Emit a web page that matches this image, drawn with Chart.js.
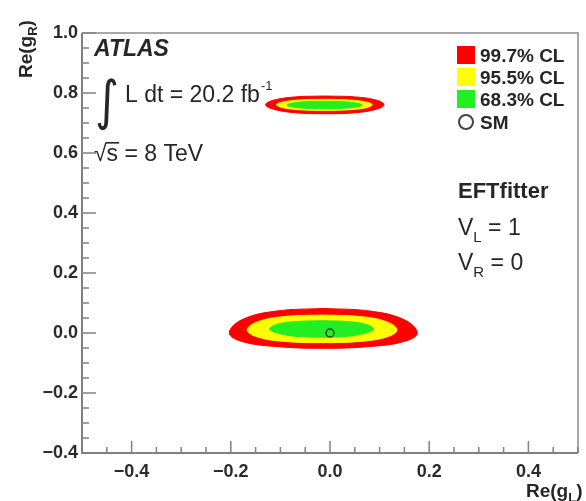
<!DOCTYPE html>
<html>
<head>
<meta charset="utf-8">
<script src="https://cdn.jsdelivr.net/npm/chart.js@4.4.0/dist/chart.umd.min.js"></script>
<style>
  html, body { margin: 0; padding: 0; background: #fff; }
  #wrap { width: 586px; height: 501px; position: relative; }
</style>
</head>
<body>
<div id="wrap"><canvas id="c"></canvas></div>
<script>
// --- contour points (top centre, then clockwise) ---
const lowRedX = [-0.014, 0.081, 0.150, 0.176, 0.150, 0.081, -0.014, -0.109, -0.178, -0.203, -0.178, -0.109];
const lowRedY = [0.082, 0.073, 0.044, 0.000, -0.028, -0.045, -0.051, -0.045, -0.028, 0.000, 0.044, 0.073];
const lowYelX = [-0.016, 0.060, 0.115, 0.135, 0.115, 0.060, -0.016, -0.092, -0.147, -0.167, -0.147, -0.092];
const lowYelY = [0.060, 0.055, 0.037, 0.010, -0.013, -0.028, -0.032, -0.028, -0.013, 0.010, 0.037, 0.055];
const lowGrnX = [-0.017, 0.036, 0.074, 0.088, 0.074, 0.036, -0.017, -0.070, -0.108, -0.122, -0.108, -0.070];
const lowGrnY = [0.041, 0.038, 0.028, 0.013, 0.001, -0.011, -0.014, -0.011, 0.001, 0.013, 0.028, 0.038];

const upRedX = [-0.010, 0.050, 0.094, 0.109, 0.094, 0.050, -0.010, -0.070, -0.114, -0.130, -0.114, -0.070];
const upRedY = [0.790, 0.787, 0.776, 0.761, 0.746, 0.734, 0.731, 0.734, 0.746, 0.761, 0.776, 0.787];
const upYelX = [-0.011, 0.037, 0.073, 0.085, 0.073, 0.037, -0.011, -0.060, -0.095, -0.108, -0.095, -0.060];
const upYelY = [0.779, 0.777, 0.770, 0.761, 0.751, 0.744, 0.742, 0.744, 0.751, 0.761, 0.770, 0.777];
const upGrnX = [-0.011, 0.027, 0.055, 0.065, 0.055, 0.027, -0.011, -0.049, -0.077, -0.087, -0.077, -0.049];
const upGrnY = [0.772, 0.771, 0.766, 0.760, 0.754, 0.749, 0.748, 0.749, 0.754, 0.760, 0.766, 0.771];

// standard model point
const smX = [0.0];
const smY = [0.0];

const legendLabels = ['99.7% CL', '95.5% CL', '68.3% CL', 'SM'];
const xMajor = [-0.4, -0.2, 0.0, 0.2, 0.4];
const yMajor = [-0.4, -0.2, 0.0, 0.2, 0.4, 0.6, 0.8, 1.0];

const RED = '#ff0000', YEL = '#ffff00', GRN = '#22ee22';
const FONT = '"Liberation Sans", Arial, sans-serif';

function isMajor(v, list) {
  return list.some(m => Math.abs(m - v) < 1e-6);
}
function fmt(v) {
  if (Math.abs(v) < 1e-6) return '0.0';
  return v < 0 ? '\u2212' + (-v).toFixed(1) : v.toFixed(1);
}
// minor tick positions every 0.05
function minorTicks(min, max) {
  const out = [];
  for (let i = Math.round(min * 20); i <= Math.round(max * 20); i++) out.push({ value: i / 20 });
  return out;
}

function contour(label, xs, ys, color, order) {
  const pts = xs.map((x, i) => ({ x: x, y: ys[i] }));
  pts.push(pts[0]);
  return {
    label: label, data: pts, showLine: true, fill: 'shape',
    backgroundColor: color, borderColor: color, borderWidth: 1,
    pointRadius: 0, tension: 0.4, order: order
  };
}

// --- frame and inward ticks (ROOT style) ---
const framePlugin = {
  id: 'frame',
  afterDatasetsDraw(chart) {
    const { ctx, chartArea: a, scales } = chart;
    ctx.save();
    ctx.lineWidth = 2;
    ctx.strokeStyle = '#a8a8a8';
    ctx.beginPath();
    ctx.moveTo(a.left, a.top); ctx.lineTo(a.right, a.top); ctx.lineTo(a.right, a.bottom);
    ctx.stroke();
    ctx.strokeStyle = '#808080';
    ctx.beginPath();
    ctx.moveTo(a.left, a.top); ctx.lineTo(a.left, a.bottom); ctx.lineTo(a.right, a.bottom);
    ctx.stroke();
    ctx.lineWidth = 1.5;
    ctx.beginPath();
    scales.x.ticks.forEach(t => {
      const px = scales.x.getPixelForValue(t.value);
      const len = isMajor(t.value, xMajor) ? 12 : 6;
      ctx.moveTo(px, a.bottom); ctx.lineTo(px, a.bottom - len);
    });
    scales.y.ticks.forEach(t => {
      const py = scales.y.getPixelForValue(t.value);
      const len = isMajor(t.value, yMajor) ? 14 : 7;
      ctx.moveTo(a.left, py); ctx.lineTo(a.left + len, py);
    });
    ctx.stroke();
    ctx.restore();
  }
};

// --- texts, legend, axis titles ---
function subText(ctx, x, y, main, sub, rest, size) {
  ctx.font = size + 'px ' + FONT;
  ctx.fillText(main, x, y);
  x += ctx.measureText(main).width;
  ctx.font = Math.round(size * 0.65) + 'px ' + FONT;
  ctx.fillText(sub, x, y + size * 0.3);
  x += ctx.measureText(sub).width;
  ctx.font = size + 'px ' + FONT;
  ctx.fillText(rest, x, y);
}

const textPlugin = {
  id: 'texts',
  afterDraw(chart) {
    const ctx = chart.ctx;
    ctx.save();
    ctx.fillStyle = '#262626';
    ctx.textBaseline = 'alphabetic';
    ctx.textAlign = 'left';

    ctx.font = 'italic bold 23px ' + FONT;
    ctx.fillText('ATLAS', 94, 56);

    // integral sign
    ctx.save();
    ctx.translate(95, 119);
    ctx.scale(1.15, 1.35);
    ctx.font = '40px "DejaVu Sans"';
    ctx.fillText('\u222B', 0, 0);
    ctx.restore();
    ctx.font = '23px ' + FONT;
    ctx.fillText('L dt = 20.2 fb', 125, 102);
    let w = ctx.measureText('L dt = 20.2 fb').width;
    ctx.font = '13px ' + FONT;
    ctx.fillText('-1', 125 + w + 1, 90);

    // sqrt(s) = 8 TeV
    ctx.font = '23px ' + FONT;
    ctx.fillText('\u221A', 94, 161);
    const rw = ctx.measureText('\u221A').width;
    ctx.fillText('s', 94 + rw, 161);
    const sw = ctx.measureText('s').width;
    ctx.fillRect(94 + rw - 1, 142, sw + 2, 1.6);
    ctx.fillText(' = 8 TeV', 94 + rw + sw, 161);

    // legend
    const colors = [RED, YEL, GRN];
    const rows = [55, 77, 99, 122];
    ctx.font = 'bold 19px ' + FONT;
    colors.forEach((c, i) => {
      ctx.fillStyle = c;
      ctx.fillRect(457, rows[i] - 9, 18, 18);
      ctx.fillStyle = '#262626';
      ctx.fillText(legendLabels[i], 480, rows[i] + 7);
    });
    ctx.strokeStyle = '#444';
    ctx.lineWidth = 2;
    ctx.beginPath();
    ctx.arc(466, rows[3], 7, 0, Math.PI * 2);
    ctx.stroke();
    ctx.fillText(legendLabels[3], 480, rows[3] + 7);

    ctx.font = 'bold 22px ' + FONT;
    ctx.fillText('EFTfitter', 458, 198);
    subText(ctx, 458, 235, 'V', 'L', ' = 1', 23);
    subText(ctx, 458, 270, 'V', 'R', ' = 0', 23);

    // y axis title
    ctx.save();
    ctx.translate(32, 78);
    ctx.rotate(-Math.PI / 2);
    ctx.font = 'bold 19px ' + FONT;
    ctx.fillText('Re(g', 0, 0);
    let tw = ctx.measureText('Re(g').width;
    ctx.font = 'bold 13px ' + FONT;
    ctx.fillText('R', tw, 5);
    tw += ctx.measureText('R').width;
    ctx.font = 'bold 19px ' + FONT;
    ctx.fillText(')', tw, 0);
    ctx.restore();

    // x axis title
    ctx.font = 'bold 19px ' + FONT;
    ctx.fillText('Re(g', 526, 497);
    tw = ctx.measureText('Re(g').width;
    ctx.font = 'bold 13px ' + FONT;
    ctx.fillText('L', 526 + tw, 502);
    tw += ctx.measureText('L').width;
    ctx.font = 'bold 19px ' + FONT;
    ctx.fillText(')', 526 + tw, 497);
    ctx.restore();
  }
};

Chart.defaults.font.family = FONT;

new Chart(document.getElementById('c'), {
  type: 'scatter',
  data: {
    datasets: [
      { label: 'SM', data: smX.map((x, i) => ({ x: x, y: smY[i] })), pointRadius: 4,
        pointBorderWidth: 1.5, borderColor: '#2a3a2a', backgroundColor: 'rgba(0,0,0,0)', order: 0 },
      contour('68.3% CL', lowGrnX, lowGrnY, GRN, 1),
      contour('68.3% CL', upGrnX, upGrnY, GRN, 1),
      contour('95.5% CL', lowYelX, lowYelY, YEL, 2),
      contour('95.5% CL', upYelX, upYelY, YEL, 2),
      contour('99.7% CL', lowRedX, lowRedY, RED, 3),
      contour('99.7% CL', upRedX, upRedY, RED, 3)
    ]
  },
  options: {
    responsive: true,
    maintainAspectRatio: false,
    animation: false,
    layout: { padding: { top: 33, right: 8, left: 0, bottom: 0 } },
    plugins: { legend: { display: false }, tooltip: { enabled: false } },
    scales: {
      x: {
        min: -0.5, max: 0.5,
        afterBuildTicks: s => { s.ticks = minorTicks(-0.5, 0.5); },
        afterFit: s => { s.height = 48; },
        grid: { display: false, drawTicks: false },
        border: { display: false },
        ticks: {
          autoSkip: false, maxRotation: 0, padding: 8,
          color: '#2a2a2a', font: { size: 18, weight: 'bold' },
          callback: v => isMajor(v, xMajor) ? fmt(v) : ''
        }
      },
      y: {
        min: -0.4, max: 1.0,
        afterBuildTicks: s => { s.ticks = minorTicks(-0.4, 1.0); },
        afterFit: s => { s.width = 82; },
        grid: { display: false, drawTicks: false },
        border: { display: false },
        ticks: {
          autoSkip: false, padding: 4,
          color: '#2a2a2a', font: { size: 18, weight: 'bold' },
          callback: v => isMajor(v, yMajor) ? fmt(v) : ''
        }
      }
    }
  },
  plugins: [framePlugin, textPlugin]
});
</script>
</body>
</html>
